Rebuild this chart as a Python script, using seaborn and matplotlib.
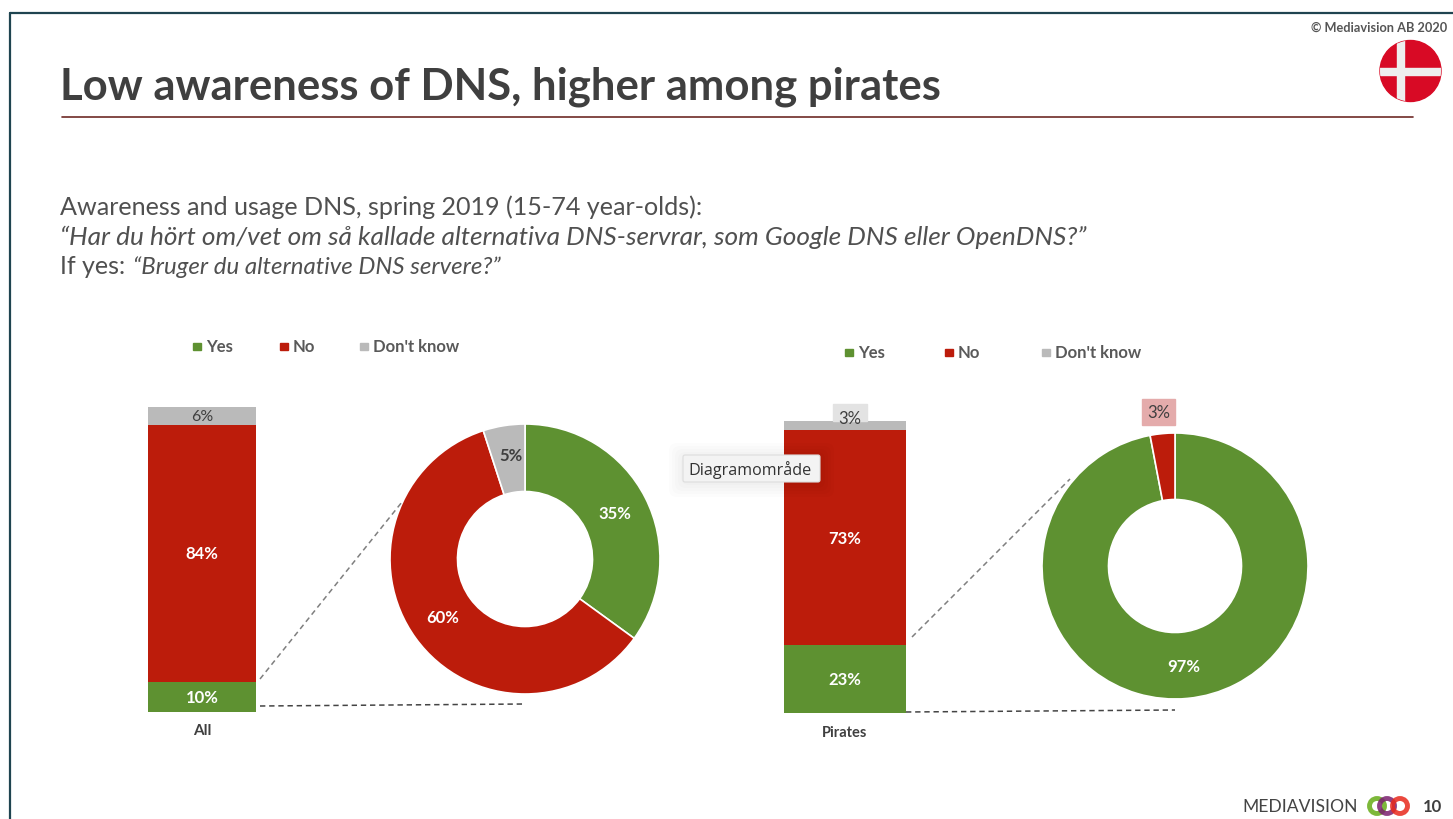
import pandas as pd
import matplotlib
matplotlib.use('Agg')
import matplotlib.pyplot as plt
import seaborn as sns
from matplotlib.patches import Circle, FancyBboxPatch, Rectangle

# --- Data ---
ANSWERS = ["Yes", "No", "Don't know"]
ALL_AWARE = [10, 84, 6]
PIRATES_AWARE = [23, 73, 3]
ALL_USAGE = [35, 60, 5]
PIRATES_USAGE = [97, 3]
BAR_NAMES = ["All", "Pirates"]

COLORS = {"Yes": "#5e9131", "No": "#bc1c0b", "Don't know": "#bababa"}
TEXT = "#3f3f3f"
W, H = 1453, 820

sns.set_theme(style="white")
plt.rcParams['font.family'] = ['Lato', 'DejaVu Sans']

fig = plt.figure(figsize=(W / 100, H / 100), dpi=100, facecolor='white')


def px_axes(x0, y0, x1, y1):
    return fig.add_axes([x0 / W, 1 - y1 / H, (x1 - x0) / W, (y1 - y0) / H])


def stacked_bar(box, values, name):
    ax = px_axes(*box)
    df = pd.DataFrame({'group': name, 'answer': ANSWERS, 'value': values})
    bottom = 0
    for _, row in df.iterrows():
        sns.barplot(data=row.to_frame().T.astype({'value': float}), x='group', y='value',
                    color=COLORS[row['answer']], saturation=1, width=1, bottom=bottom,
                    ax=ax, edgecolor='none')
        if row['answer'] != "Don't know":
            ax.text(0, bottom + row['value'] / 2, f"{row['value']}%", ha='center', va='center',
                    color='white', fontsize=12, fontweight='bold')
        bottom += row['value']
    ax.set_xlim(-0.5, 0.5)
    ax.set_ylim(0, sum(values))
    ax.axis('off')
    return ax


def donut(center, r, values):
    ax = px_axes(center[0] - r, center[1] - r, center[0] + r, center[1] + r)
    ax.pie(values, colors=[COLORS[a] for a in ANSWERS[:len(values)]], startangle=90, counterclock=False,
           radius=1, wedgeprops=dict(width=0.5, edgecolor='white', linewidth=1.2))
    ax.set_xlim(-1, 1)
    ax.set_ylim(-1, 1)
    ax.set_aspect('auto')
    return ax


stacked_bar((148, 408, 256, 713), ALL_AWARE, BAR_NAMES[0])
stacked_bar((784, 422, 906, 714), PIRATES_AWARE, BAR_NAMES[1])
donut((525, 560), 135, ALL_USAGE)
donut((1175, 567), 133, PIRATES_USAGE)

# overlay in picture pixels for the slide furniture
ov = fig.add_axes([0, 0, 1, 1], zorder=10)
ov.set_xlim(0, W)
ov.set_ylim(H, 0)
ov.axis('off')
ov.patch.set_alpha(0)

# slide frame and title
ov.plot([10, W], [14, 14], color='#1f4450', lw=1.6)
ov.plot([10, 10], [14, H], color='#1f4450', lw=1.6)
ov.plot([62, 1413], [118, 118], color='#6e2a26', lw=1.2)
ov.text(60, 87, "Low awareness of DNS, higher among pirates", fontsize=31.4, fontweight='bold',
        color=TEXT, va='center')
ov.text(1447, 27.5, "© Mediavision AB 2020", fontsize=9.2, fontweight='bold', color='#555555',
        ha='right', va='center')

# subtitle, sizes per line because Lato runs wider or narrower than the slide font
SUB = dict(color='#505050', va='center')
ov.text(60, 207, "Awareness and usage DNS, spring 2019 (15-74 year-olds):", fontsize=18.1, **SUB)
ov.text(60, 237, "“Har du hört om/vet om så kallade alternativa DNS-servrar, som Google DNS eller OpenDNS?”",
        style='italic', fontsize=18.9, **SUB)
ov.text(60, 267, "If yes: ", fontsize=18, **SUB)
ov.text(133, 267, "“Bruger du alternative DNS servere?”", style='italic', fontsize=17.3, **SUB)

# Danish flag
flag = Circle((1410.5, 72), 30.5, color='#d80a25', zorder=2)
ov.add_patch(flag)
for r in (Rectangle((1396.5, 40), 7, 64, color='#eeeeee', zorder=3),
          Rectangle((1379, 68.5), 64, 7.5, color='#eeeeee', zorder=3)):
    ov.add_patch(r)
    r.set_clip_path(flag)

# legends
for y, xs in ((347, (197, 284, 364)), (353, (849, 949, 1046))):
    for x, a in zip(xs, ANSWERS):
        ov.add_patch(Rectangle((x - 4, y - 3.5), 8, 7, color=COLORS[a]))
        ov.text(x + 9, y + 0.5, a, fontsize=12, fontweight='bold', color='#595959', va='center')

# category names and small labels
ov.text(202, 731, BAR_NAMES[0], fontsize=11, fontweight='bold', color=TEXT, ha='center', va='center')
ov.text(845, 733, BAR_NAMES[1], fontsize=10.5, fontweight='bold', color=TEXT, ha='center', va='center')
ov.text(202, 417, f"{ALL_AWARE[2]}%", fontsize=11.5, color=TEXT, ha='center', va='center')
ov.add_patch(Rectangle((833, 405), 34, 17, color='#e3e3e3', zorder=1))
ov.text(850, 419, f"{PIRATES_AWARE[2]}%", fontsize=12, color=TEXT, ha='center', va='center', zorder=3)
ov.add_patch(Rectangle((1142, 400), 33, 26, color='#e4abab', zorder=1))
ov.text(1158.5, 413, f"{PIRATES_USAGE[1]}%", fontsize=12, color=TEXT, ha='center', va='center')

# donut labels
LAB = dict(fontsize=12, fontweight='bold', ha='center', va='center')
ov.text(511, 456, f"{ALL_USAGE[2]}%", color=TEXT, **LAB)
ov.text(615, 514, f"{ALL_USAGE[0]}%", color='white', **LAB)
ov.text(443, 618, f"{ALL_USAGE[1]}%", color='white', **LAB)
ov.text(1184, 667, f"{PIRATES_USAGE[0]}%", color='white', **LAB)

# connectors
dash = dict(ls=(0, (3.5, 2.5)), lw=1.1)
ov.plot([260, 402], [680, 503], color='#7f7f7f', **dash)
ov.plot([260, 525], [707, 705], color='#444444', **dash)
ov.plot([912, 1070], [638, 480], color='#7f7f7f', **dash)
ov.plot([906, 1175], [713, 711], color='#444444', **dash)

# hover tooltip from the screenshot, soft shadow built from layered boxes
for grow in (14, 11, 8, 5, 2):
    ov.add_patch(FancyBboxPatch((683 - grow, 458 - grow), 137 + 2 * grow, 26 + 2 * grow,
                                boxstyle='round,pad=0,rounding_size=8', fc='#000000', ec='none',
                                alpha=0.012, zorder=4))
ov.add_patch(FancyBboxPatch((683, 456), 137, 27, boxstyle='round,pad=0,rounding_size=2',
                            fc='#f3f3f3', ec='#dddddd', lw=0.8, zorder=5))
ov.text(750, 470, "Diagramområde", fontsize=11.6, color='#333333', ha='center', va='center', zorder=6,
        family=['Open Sans', 'DejaVu Sans'])

# footer logo
ov.text(1358, 807, "MEDIAVISION", fontsize=12.6, color='#444444', ha='right', va='center')
for x, c, a in ((1377, '#7db83a', 1), (1387, '#7a1f6e', 0.85), (1400, '#e8291c', 0.85)):
    ov.add_patch(Circle((x, 807), 7.5, fc='none', ec=c, lw=3.5, alpha=a))
ov.text(1432, 807, "10", fontsize=12, fontweight='bold', color=TEXT, ha='center', va='center')

fig.savefig('out.png', dpi=100)
